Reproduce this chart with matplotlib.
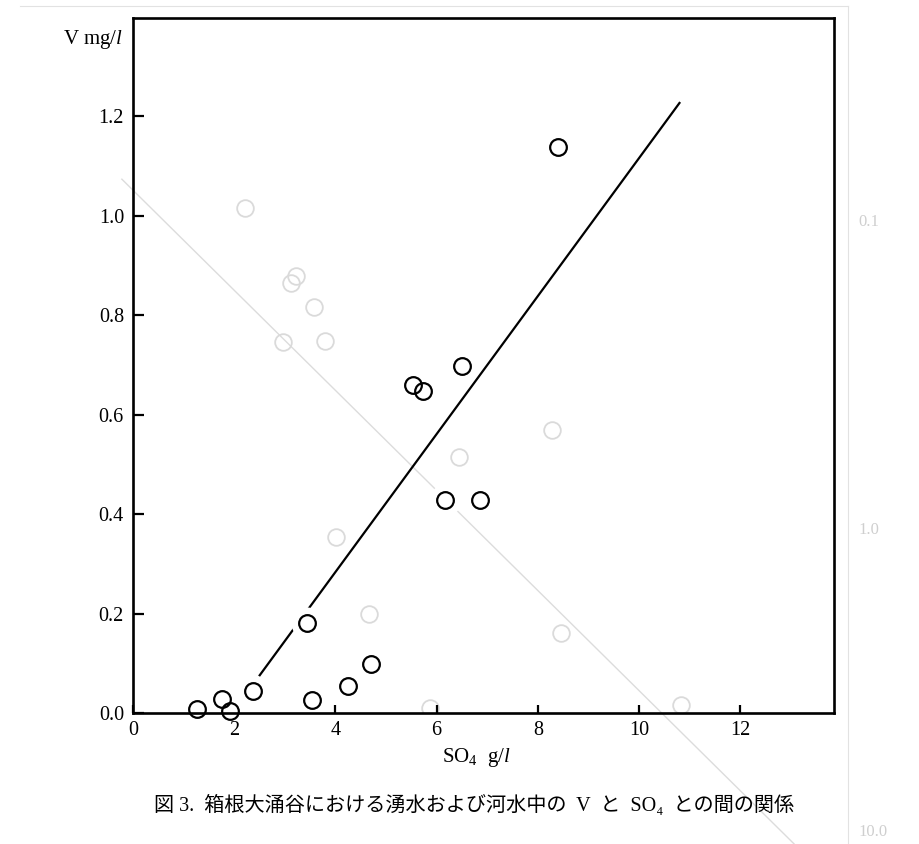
import matplotlib
matplotlib.use('Agg')
import matplotlib.pyplot as plt
from matplotlib.lines import Line2D

plt.rcParams['font.family'] = ['Liberation Serif', 'Noto Sans CJK JP', 'DejaVu Sans']
plt.rcParams['mathtext.fontset'] = 'custom'
plt.rcParams['mathtext.rm'] = 'Liberation Serif'
plt.rcParams['mathtext.it'] = 'Liberation Serif:italic'

# --- data: SO4 (g/l) vs V (mg/l) ---
so4 = [1.27, 1.75, 1.92, 2.38, 3.43, 3.53, 4.25, 4.70, 5.54, 5.72, 6.51, 6.17, 6.86, 8.39]
v   = [0.008, 0.028, 0.005, 0.045, 0.181, 0.027, 0.055, 0.098, 0.659, 0.647, 0.698, 0.428, 0.428, 1.138]

# fitted line end points
fit_x = [2.49, 10.81]
fit_y = [0.074, 1.228]

# show-through from reverse side of the page (faint)
ghost_x = [2.21, 3.22, 3.12, 3.58, 2.96, 3.79, 4.01, 6.44, 8.28, 4.66, 8.46, 5.87, 10.83]
ghost_y = [1.015, 0.878, 0.864, 0.816, 0.746, 0.748, 0.354, 0.515, 0.569, 0.199, 0.161, 0.010, 0.016]
ghost_line_x = [-0.22, 13.06]
ghost_line_y = [1.073, -0.263]

xticks = [0, 2, 4, 6, 8, 10, 12]
xtick_labels = ['0', '2', '4', '6', '8', '10', '12']
yticks = [0.0, 0.2, 0.4, 0.6, 0.8, 1.0, 1.2]
ytick_labels = ['0.0', '0.2', '0.4', '0.6', '0.8', '1.0', '1.2']

caption = '図 3.  箱根大涌谷における湧水および河水中の  V  と  SO₄  との間の関係'

fig = plt.figure(figsize=(9.19, 8.44), dpi=100)
fig.patch.set_facecolor('white')
ax = fig.add_axes([133/919, 131/844, 701/919, 695/844])
ax.set_xlim(0, 13.85)
ax.set_ylim(0, 1.397)

# faint show-through
ax.plot(ghost_line_x, ghost_line_y, color='#dcdcdc', lw=1.0, zorder=1, clip_on=False)
ax.plot(ghost_x, ghost_y, linestyle='none', marker='o', ms=12, mfc='none',
        mec='#dadada', mew=1.3, zorder=1)

# fitted line
ax.plot(fit_x, fit_y, color='black', lw=1.6, zorder=2, solid_capstyle='butt')
# white halo masks around points
ax.plot(so4, v, linestyle='none', marker='o', ms=23, mfc='white', mec='none', zorder=2.5)
# data circles
ax.plot(so4, v, linestyle='none', marker='o', ms=12, mfc='none', mec='black',
        mew=1.6, zorder=3, clip_on=False)

ax.set_xticks(xticks)
ax.set_xticklabels(xtick_labels)
ax.set_yticks(yticks)
ax.set_yticklabels(ytick_labels)
ax.tick_params(direction='in', width=1.6, labelsize=14.5, colors='black')
ax.tick_params(axis='x', length=6, pad=6)
ax.tick_params(axis='y', length=8, pad=6.5)
for s in ax.spines.values():
    s.set_linewidth(1.9)
    s.set_color('black')

ax.text(-0.2, 1.353, r'V mg/$l$', ha='right', va='center', fontsize=15, clip_on=False)
ax.text(6.78, -0.09, r'SO$_4$  g/$l$', ha='center', va='center', fontsize=15, clip_on=False)

fig.text(474/919, 1 - 805/844, caption, ha='center', va='center', fontsize=14.5,
         family=['Liberation Serif', 'Noto Sans CJK JP', 'DejaVu Sans'])

# faint page edge and reverse-side labels
fig.add_artist(Line2D([848/919, 848/919], [0, 1 - 6/844], transform=fig.transFigure,
                      color='#e2e2e2', lw=0.8))
fig.add_artist(Line2D([20/919, 848/919], [1 - 6/844, 1 - 6/844], transform=fig.transFigure,
                      color='#e2e2e2', lw=0.8))
for lab, yy in [('0.1', 222), ('1.0', 530), ('10.0', 832)]:
    fig.text(858/919, 1 - yy/844, lab, ha='left', va='center', fontsize=12, color='#cfcfcf')

fig.savefig('out.png', dpi=100)
